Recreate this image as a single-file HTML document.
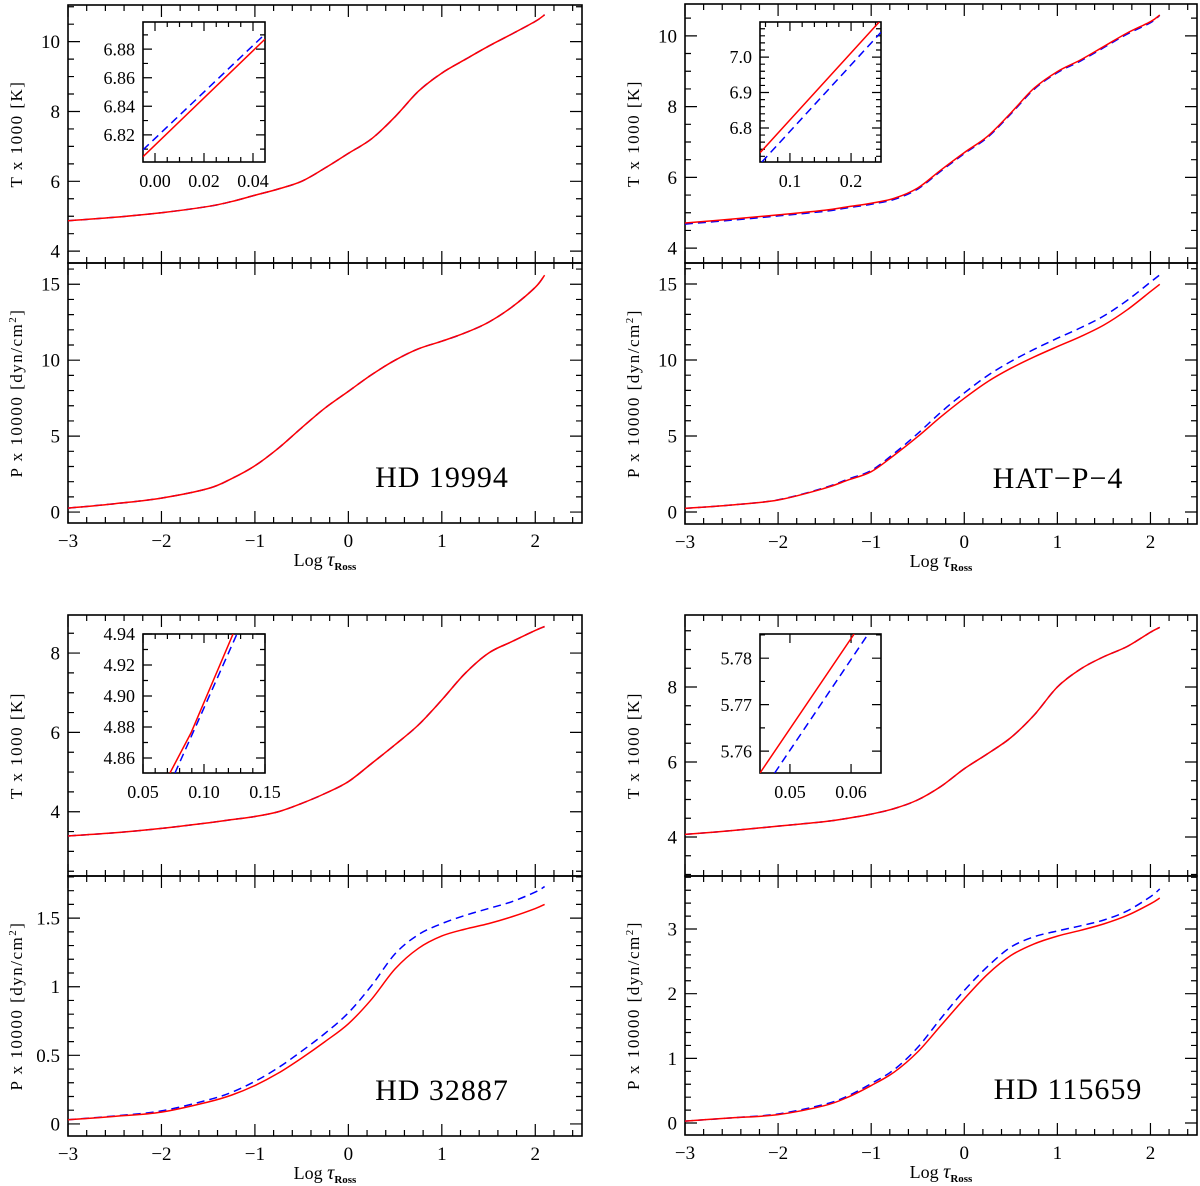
<!DOCTYPE html>
<html><head><meta charset="utf-8"><style>
html,body{margin:0;padding:0;background:#fff;}
svg{display:block;}
text{font-family:"Liberation Serif",serif;fill:#000;}
</style></head>
<body>
<svg id="fig" width="1200" height="1186" viewBox="0 0 1200 1186" xmlns="http://www.w3.org/2000/svg"></svg>
<script>
// ---- data ----
const logTau = [-3,-2.5,-2,-1.5,-1.25,-1,-0.75,-0.5,-0.25,0,0.25,0.5,0.75,1,1.25,1.5,1.75,2,2.1];
const hd19994_T_red  = [4.87,4.97,5.10,5.28,5.42,5.60,5.78,6.00,6.38,6.80,7.22,7.85,8.58,9.10,9.49,9.87,10.22,10.58,10.77];
const hd19994_T_blue = [4.87,4.97,5.10,5.28,5.42,5.60,5.78,6.00,6.38,6.80,7.22,7.85,8.58,9.10,9.49,9.87,10.22,10.58,10.77];
const hd19994_P_red  = [0.26,0.55,0.92,1.55,2.20,3.05,4.20,5.55,6.85,7.95,9.05,10.00,10.75,11.25,11.80,12.50,13.50,14.80,15.60];
const hd19994_P_blue = [0.26,0.55,0.92,1.55,2.20,3.05,4.20,5.55,6.85,7.95,9.05,10.00,10.75,11.25,11.80,12.50,13.50,14.80,15.60];
const hatp4_T_red  = [4.71,4.82,4.94,5.07,5.17,5.27,5.41,5.70,6.21,6.70,7.16,7.82,8.52,8.99,9.32,9.70,10.08,10.40,10.59];
const hatp4_T_blue = [4.68,4.79,4.91,5.04,5.14,5.24,5.38,5.67,6.18,6.67,7.13,7.79,8.49,8.96,9.29,9.67,10.05,10.37,10.58];
const hatp4_P_red  = [0.24,0.46,0.79,1.56,2.10,2.65,3.75,4.96,6.27,7.48,8.57,9.45,10.20,10.88,11.54,12.30,13.30,14.50,14.98];
const hatp4_P_blue = [0.24,0.46,0.80,1.60,2.16,2.73,3.87,5.16,6.57,7.83,8.97,9.90,10.70,11.43,12.12,12.90,13.92,15.12,15.60];
const hd32887_T_red  = [3.39,3.47,3.58,3.72,3.80,3.88,4.00,4.21,4.46,4.76,5.22,5.69,6.19,6.82,7.49,8.00,8.29,8.57,8.67];
const hd32887_T_blue = [3.39,3.47,3.58,3.72,3.80,3.88,4.00,4.21,4.46,4.76,5.22,5.69,6.19,6.82,7.49,8.00,8.29,8.57,8.67];
const hd32887_P_red  = [0.030,0.055,0.086,0.16,0.21,0.28,0.37,0.48,0.60,0.73,0.91,1.13,1.28,1.37,1.42,1.46,1.51,1.57,1.60];
const hd32887_P_blue = [0.030,0.058,0.095,0.175,0.23,0.31,0.41,0.53,0.66,0.81,1.01,1.24,1.38,1.46,1.52,1.57,1.62,1.69,1.73];
const hd115659_T_red  = [4.07,4.17,4.29,4.41,4.50,4.61,4.76,4.99,5.35,5.82,6.22,6.65,7.25,8.00,8.48,8.81,9.08,9.46,9.59];
const hd115659_T_blue = [4.07,4.17,4.29,4.41,4.50,4.61,4.76,4.99,5.35,5.82,6.22,6.65,7.25,8.00,8.48,8.81,9.08,9.46,9.59];
const hd115659_P_red  = [0.03,0.08,0.13,0.27,0.40,0.58,0.79,1.10,1.51,1.92,2.30,2.59,2.77,2.89,2.98,3.08,3.21,3.39,3.48];
const hd115659_P_blue = [0.03,0.08,0.14,0.29,0.42,0.61,0.83,1.17,1.62,2.05,2.42,2.72,2.88,2.97,3.05,3.14,3.28,3.50,3.62];
// inset data
const inset19994_x = [-0.0049,0.0449];
const inset19994_red = [6.8047,6.8870];
const inset19994_blue_x = [-0.0049,0.0449];
const inset19994_blue = [6.8095,6.8905];
const insetHat_x = [0.051,0.246];
const insetHat_red = [6.730,7.099];
const insetHat_blue_x = [0.054,0.249];
const insetHat_blue = [6.704,7.070];
const inset32887_x = [0.0721,0.0893,0.1238];
const inset32887_red = [4.8503,4.8761,4.9400];
const inset32887_blue_x = [0.0762,0.1270];
const inset32887_blue = [4.8503,4.9400];
const inset115659_x = [0.0451,0.0605];
const inset115659_red = [5.7553,5.7852];
const inset115659_blue_x = [0.0475,0.0628];
const inset115659_blue = [5.7553,5.7852];
const xTickLabels = ['\u22123','\u22122','\u22121','0','1','2'];

const NS='http://www.w3.org/2000/svg';
const svg=document.getElementById('fig');
function el(tag,attrs,parent){const e=document.createElementNS(NS,tag);for(const k in attrs)e.setAttribute(k,attrs[k]);(parent||svg).appendChild(e);return e;}
function fmt(v,d){return (Math.abs(v)<1e-9?0:v).toFixed(d).replace('-','\u2212');}
function linScale(d0,d1,r0,r1){return v=>r0+(v-d0)*(r1-r0)/(d1-d0);}

function drawAxesBox(x0,x1,y0,y1,xd,yd,xMaj,xMin,yMaj,yMin,majL,minL,name,g){
  const fx=linScale(xd[0],xd[1],x0,x1), fy=linScale(yd[0],yd[1],y1,y0);
  const r=el('rect',{x:x0,y:y0,width:x1-x0,height:y1-y0,fill:'none',stroke:'#000','stroke-width':1.6},g);
  
  
  let d='';
  const eps=1e-7;
  let s=Math.ceil((xd[0]-eps)/xMin)*xMin;
  for(let v=s;v<=xd[1]+eps;v+=xMin){
    const isMaj=Math.abs(v/xMaj-Math.round(v/xMaj))<1e-4;const L=isMaj?majL:minL;const X=fx(v);
    d+=`M${X},${y1}v${-L}M${X},${y0}v${L}`;
  }
  s=Math.ceil((yd[0]-eps)/yMin)*yMin;
  for(let v=s;v<=yd[1]+eps;v+=yMin){
    const isMaj=Math.abs(v/yMaj-Math.round(v/yMaj))<1e-4;const L=isMaj?majL:minL;const Y=fy(v);
    d+=`M${x0},${Y}h${L}M${x1},${Y}h${-L}`;
  }
  const t=el('path',{d:d,stroke:'#000','stroke-width':1.2,fill:'none'},g);
  
  
  return {fx,fy};
}
function yLabels(g,fy,x0,yd,yMaj,dec,fs,name,strip){
  const s=Math.ceil((yd[0]-1e-7)/yMaj)*yMaj;
  for(let v=s;v<=yd[1]+1e-7;v+=yMaj){
    const t=el('text',{x:x0-8,y:fy(v)+fs*0.34,'text-anchor':'end','font-size':fs},g);
    let s2=fmt(v,dec); if(strip) s2=s2.replace(/\.0$/,'');
    t.textContent=s2;
    
    
  }
}
function xLabels(g,fx,yb,vals,labels,fs,name){
  vals.forEach((v,i)=>{
    const t=el('text',{x:fx(v),y:yb,'text-anchor':'middle','font-size':fs},g);
    t.textContent=labels[i];
    
    
  });
}
function smoothPath(P){
  let d=`M${P[0][0].toFixed(2)},${P[0][1].toFixed(2)}`;
  for(let i=0;i<P.length-1;i++){
    const p0=P[i-1]||P[i],p1=P[i],p2=P[i+1],p3=P[i+2]||P[i+1];
    const c1=[p1[0]+(p2[0]-p0[0])/6,p1[1]+(p2[1]-p0[1])/6];
    const c2=[p2[0]-(p3[0]-p1[0])/6,p2[1]-(p3[1]-p1[1])/6];
    d+=`C${c1[0].toFixed(2)},${c1[1].toFixed(2)} ${c2[0].toFixed(2)},${c2[1].toFixed(2)} ${p2[0].toFixed(2)},${p2[1].toFixed(2)}`;
  }
  return d;
}
function line(g,fx,fy,xs,ys,color,dash,name,clip,smooth){
  const P=xs.map((x,i)=>[fx(x),fy(ys[i])]);
  const d=smooth?smoothPath(P):'M'+P.map(p=>p[0].toFixed(2)+','+p[1].toFixed(2)).join('L');
  const a={d:d,fill:'none',stroke:color,'stroke-width':1.5,'stroke-linejoin':'round'};
  if(dash)a['stroke-dasharray']='8,5';
  if(clip)a['clip-path']='url(#'+clip+')';
  const p=el('path',a,g);
  
  
}
const defs=el('defs',{});
let clipN=0;
function clipRect(x0,y0,x1,y1){const id='c'+(clipN++);const c=el('clipPath',{id:id},defs);el('rect',{x:x0,y:y0,width:x1-x0,height:y1-y0},c);return id;}

function panel(cfg){
  const g=el('g',{});
  
  
  const xd=[-3,2.5];
  const T=drawAxesBox(cfg.x0,cfg.x1,cfg.tY0,cfg.tY1,xd,cfg.tD,1,0.2,cfg.tMaj,cfg.tMin,12,6,cfg.name+'-temperature',g);
  yLabels(g,T.fy,cfg.x0,cfg.tD,cfg.tMaj,0,19,cfg.name+'-temperature');
  const ct=clipRect(cfg.x0,cfg.tY0,cfg.x1,cfg.tY1);
  line(g,T.fx,T.fy,logTau,cfg.Tb,'#0000ff',true,cfg.name+'-temperature-blue-line',ct,true);
  line(g,T.fx,T.fy,logTau,cfg.Tr,'#ff0000',false,cfg.name+'-temperature-red-line',ct,true);
  const P=drawAxesBox(cfg.x0,cfg.x1,cfg.pY0,cfg.pY1,xd,cfg.pD,1,0.2,cfg.pMaj,cfg.pMin,12,6,cfg.name+'-pressure',g);
  yLabels(g,P.fy,cfg.x0,cfg.pD,cfg.pMaj,cfg.pDec,19,cfg.name+'-pressure',true);
  const cp=clipRect(cfg.x0,cfg.pY0,cfg.x1,cfg.pY1);
  line(g,P.fx,P.fy,logTau,cfg.Pb,'#0000ff',true,cfg.name+'-pressure-blue-line',cp,true);
  line(g,P.fx,P.fy,logTau,cfg.Pr,'#ff0000',false,cfg.name+'-pressure-red-line',cp,true);
  xLabels(g,P.fx,cfg.pY1+24,[-3,-2,-1,0,1,2],xTickLabels,19,cfg.name);
  const cxT=cfg.x0-46, cyT=(cfg.tY0+cfg.tY1)/2;
  let t=el('text',{x:cxT,y:cyT,'text-anchor':'middle','font-size':17,'letter-spacing':'1.5',transform:`rotate(-90 ${cxT} ${cyT})`},g);
  t.textContent='T x 1000 [K]';
  
  
  const cxP=cfg.x0-46, cyP=(cfg.pY0+cfg.pY1)/2;
  t=el('text',{x:cxP,y:cyP,'text-anchor':'middle','font-size':17,'letter-spacing':'1.5',transform:`rotate(-90 ${cxP} ${cyP})`},g);
  t.innerHTML='P x 10000 [dyn/cm<tspan baseline-shift="super" font-size="11">2</tspan>]';
  
  
  t=el('text',{x:P.fx(-0.25),y:cfg.pY1+43,'text-anchor':'middle','font-size':18},g);
  t.innerHTML='Log <tspan font-style="italic" font-size="20">τ</tspan><tspan font-size="11" font-weight="bold" dy="4">Ross</tspan>';
  
  
  t=el('text',{x:cfg.labelX,y:cfg.pY1-36,'text-anchor':'middle','font-size':30,'letter-spacing':'1'},g);
  t.textContent=cfg.label;
  
  
  const I=cfg.inset;
  const gi=el('g',{},g);
  
  
  el('rect',{x:I.x0,y:I.y0,width:I.x1-I.x0,height:I.y1-I.y0,fill:'#fff'},gi);
  const A=drawAxesBox(I.x0,I.x1,I.y0,I.y1,I.xd,I.yd,I.xMaj,I.xMin,I.yMaj,I.yMin,9,5,cfg.name+'-inset',gi);
  yLabels(gi,A.fy,I.x0,I.yd,I.yMaj,I.yDec,18,cfg.name+'-inset');
  const xv=[];for(let v=Math.ceil((I.xd[0]-1e-7)/I.xMaj)*I.xMaj;v<=I.xd[1]+1e-7;v+=I.xMaj)xv.push(v);
  xLabels(gi,A.fx,I.y1+25,xv,xv.map(v=>fmt(v,I.xDec)),18,cfg.name+'-inset');
  const ci=clipRect(I.x0,I.y0,I.x1,I.y1);
  line(gi,A.fx,A.fy,I.bx,I.by,'#0000ff',true,cfg.name+'-inset-blue-line',ci,false);
  line(gi,A.fx,A.fy,I.rx,I.ry,'#ff0000',false,cfg.name+'-inset-red-line',ci,false);
}

panel({name:'hd-19994',label:'HD 19994',labelX:442,x0:68,x1:582,tY0:5,tY1:263,tD:[3.66,11.05],tMaj:2,tMin:0.5,
  pY0:263,pY1:523,pD:[-0.72,16.4],pMaj:5,pMin:1,pDec:0,
  Tr:hd19994_T_red,Tb:hd19994_T_blue,Pr:hd19994_P_red,Pb:hd19994_P_blue,
  inset:{x0:143,x1:265,y0:22,y1:162,xd:[-0.0049,0.0449],yd:[6.801,6.899],xMaj:0.02,xMin:0.005,yMaj:0.02,yMin:0.01,xDec:2,yDec:2,
    rx:inset19994_x,ry:inset19994_red,bx:inset19994_blue_x,by:inset19994_blue}});
panel({name:'hat-p-4',label:'HAT\u2212P\u22124',labelX:1058,x0:685,x1:1197,tY0:4,tY1:263,tD:[3.58,10.9],tMaj:2,tMin:0.5,
  pY0:263,pY1:524,pD:[-0.79,16.38],pMaj:5,pMin:1,pDec:0,
  Tr:hatp4_T_red,Tb:hatp4_T_blue,Pr:hatp4_P_red,Pb:hatp4_P_blue,
  inset:{x0:760,x1:881,y0:22,y1:162,xd:[0.051,0.249],yd:[6.704,7.099],xMaj:0.1,xMin:0.02,yMaj:0.1,yMin:0.02,xDec:1,yDec:1,
    rx:insetHat_x,ry:insetHat_red,bx:insetHat_blue_x,by:insetHat_blue}});
panel({name:'hd-32887',label:'HD 32887',labelX:442,x0:68,x1:582,tY0:615,tY1:876,tD:[2.38,8.96],tMaj:2,tMin:0.5,
  pY0:876,pY1:1136,pD:[-0.088,1.807],pMaj:0.5,pMin:0.1,pDec:1,
  Tr:hd32887_T_red,Tb:hd32887_T_blue,Pr:hd32887_P_red,Pb:hd32887_P_blue,
  inset:{x0:143,x1:265,y0:634,y1:773,xd:[0.05,0.15],yd:[4.8503,4.94],xMaj:0.05,xMin:0.01,yMaj:0.02,yMin:0.01,xDec:2,yDec:2,
    rx:inset32887_x,ry:inset32887_red,bx:inset32887_blue_x,by:inset32887_blue}});
panel({name:'hd-115659',label:'HD 115659',labelX:1068,x0:685,x1:1197,tY0:615,tY1:876,tD:[2.96,9.92],tMaj:2,tMin:0.5,
  pY0:876,pY1:1135,pD:[-0.185,3.82],pMaj:1,pMin:0.2,pDec:0,
  Tr:hd115659_T_red,Tb:hd115659_T_blue,Pr:hd115659_P_red,Pb:hd115659_P_blue,
  inset:{x0:760,x1:881,y0:634,y1:773,xd:[0.0451,0.0649],yd:[5.7553,5.7852],xMaj:0.01,xMin:0.01,yMaj:0.01,yMin:0.005,xDec:2,yDec:2,
    rx:inset115659_x,ry:inset115659_red,bx:inset115659_blue_x,by:inset115659_blue}});
</script>
</body></html>
